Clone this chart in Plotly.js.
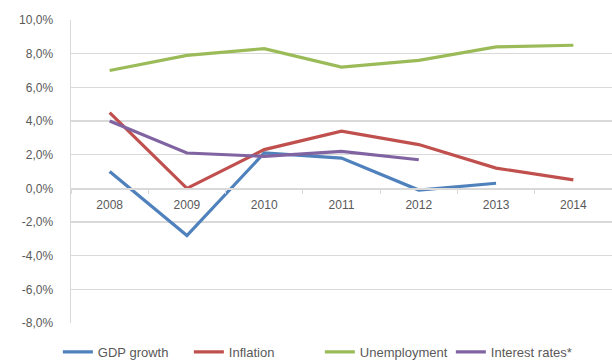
<!DOCTYPE html>
<html>
<head>
<meta charset="utf-8">
<script src="https://cdn.plot.ly/plotly-3.0.1.min.js"></script>
<style>html,body{margin:0;padding:0;background:#fff;}#chart{width:612px;height:361px;}</style>
</head>
<body>
<div id="chart"></div>
<script>
const years = ['2008', '2009', '2010', '2011', '2012', '2013', '2014'];
const gdpGrowth = [1.0, -2.8, 2.1, 1.8, -0.1, 0.3, null];
const inflation = [4.5, 0.0, 2.3, 3.4, 2.6, 1.2, 0.5];
const unemployment = [7.0, 7.9, 8.3, 7.2, 7.6, 8.4, 8.5];
const interestRates = [4.0, 2.1, 1.9, 2.2, 1.7, null, null];
const seriesNames = ['GDP growth', 'Inflation', 'Unemployment', 'Interest rates*'];
const yTickVals = [-8, -6, -4, -2, 0, 2, 4, 6, 8, 10];
const yTickText = ['-8,0%', '-6,0%', '-4,0%', '-2,0%', '0,0%', '2,0%', '4,0%', '6,0%', '8,0%', '10,0%'];

const colors = ['#4F81BD', '#C0504D', '#9BBB59', '#8064A2'];
const data = [gdpGrowth, inflation, unemployment, interestRates].map((vals, i) => ({
  type: 'scatter', mode: 'lines', x: years, y: vals, name: seriesNames[i],
  line: {color: colors[i], width: 3.2}, connectgaps: false
}));

const layout = {
  width: 612, height: 361,
  margin: {l: 71, r: 0, t: 20, b: 38, autoexpand: false},
  paper_bgcolor: '#ffffff', plot_bgcolor: '#ffffff',
  font: {family: 'Liberation Sans, Arial, sans-serif', size: 12, color: '#595959'},
  showlegend: true,
  legend: {orientation: 'h', x: 0.46, xanchor: 'center', yref: 'container', y: 0.025, yanchor: 'middle',
           font: {size: 13, color: '#595959'}, itemwidth: 30, tracegroupgap: 0,
           entrywidth: 86, entrywidthmode: 'pixels'},
  xaxis: {
    type: 'category', range: [-0.5, 6.5], anchor: 'free', position: 8 / 18,
    showline: true, linecolor: '#d9d9d9', linewidth: 1.5,
    ticks: 'outside', ticklen: 4, tickcolor: '#d9d9d9', tickson: 'boundaries',
    ticklabelstandoff: 5,
    showgrid: false, zeroline: false, fixedrange: true,
    tickfont: {size: 12, color: '#595959'}
  },
  yaxis: {
    range: [-8, 10], tickvals: yTickVals, ticktext: yTickText,
    showgrid: true, gridcolor: '#d9d9d9', gridwidth: 1.5,
    showline: true, linecolor: '#d9d9d9', linewidth: 1.5,
    zeroline: false, ticks: '', ticklabelstandoff: 14,
    tickfont: {size: 12, color: '#595959'}
  }
};

Plotly.newPlot('chart', data, layout, {displayModeBar: false, staticPlot: true});
</script>
</body>
</html>
